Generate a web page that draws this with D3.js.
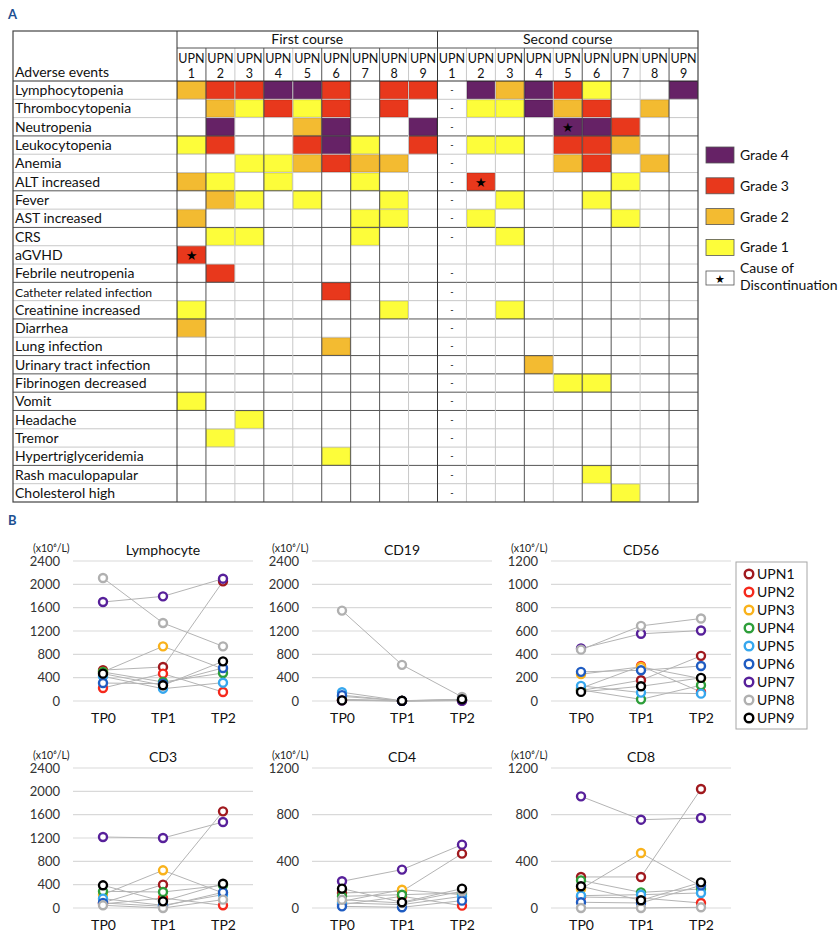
<!DOCTYPE html>
<html><head><meta charset="utf-8">
<script src="https://cdn.jsdelivr.net/npm/d3@7"></script>
<style>
body{margin:0;background:#fff;}
text{font-family:Lato,"Open Sans",sans-serif;}
</style>
</head><body>
<svg id="c" width="840" height="942"></svg>
<script>
// ---------------- DATA ----------------
const events = ["Lymphocytopenia","Thrombocytopenia","Neutropenia","Leukocytopenia","Anemia","ALT increased","Fever","AST increased","CRS","aGVHD","Febrile neutropenia","Catheter related infection","Creatinine increased","Diarrhea","Lung infection","Urinary tract infection","Fibrinogen decreased","Vomit","Headache","Tremor","Hypertriglyceridemia","Rash maculopapular","Cholesterol high"];
const courses = ["First course","Second course"];
const upnNumbers = ["1","2","3","4","5","6","7","8","9"];
// grade per event (rows) per UPN (cols); 0 = none, -1 = "-"
const firstCourse = [
 [2,3,3,4,4,3,0,3,3],
 [0,2,1,3,1,3,0,3,0],
 [0,4,0,0,2,4,0,0,4],
 [1,3,0,0,3,4,1,0,3],
 [0,0,1,1,2,3,2,2,0],
 [2,1,0,1,0,0,1,0,0],
 [0,2,1,0,1,0,0,1,0],
 [2,0,0,0,0,0,1,1,0],
 [0,1,1,0,0,0,1,0,0],
 [3,0,0,0,0,0,0,0,0],
 [0,3,0,0,0,0,0,0,0],
 [0,0,0,0,0,3,0,0,0],
 [1,0,0,0,0,0,0,1,0],
 [2,0,0,0,0,0,0,0,0],
 [0,0,0,0,0,2,0,0,0],
 [0,0,0,0,0,0,0,0,0],
 [0,0,0,0,0,0,0,0,0],
 [1,0,0,0,0,0,0,0,0],
 [0,0,1,0,0,0,0,0,0],
 [0,1,0,0,0,0,0,0,0],
 [0,0,0,0,0,1,0,0,0],
 [0,0,0,0,0,0,0,0,0],
 [0,0,0,0,0,0,0,0,0]
];
const secondCourse = [
 [-1,4,2,4,3,1,0,0,4],
 [-1,1,1,4,2,3,0,2,0],
 [-1,0,0,0,4,4,3,0,0],
 [-1,1,1,0,3,3,2,0,0],
 [-1,0,0,0,2,3,0,2,0],
 [-1,3,0,0,0,0,1,0,0],
 [-1,0,1,0,0,1,0,0,0],
 [-1,1,0,0,0,0,1,0,0],
 [-1,0,1,0,0,0,0,0,0],
 [0,0,0,0,0,0,0,0,0],
 [-1,0,0,0,0,0,0,0,0],
 [-1,0,0,0,0,0,0,0,0],
 [-1,0,1,0,0,0,0,0,0],
 [-1,0,0,0,0,0,0,0,0],
 [-1,0,0,0,0,0,0,0,0],
 [-1,0,0,2,0,0,0,0,0],
 [-1,0,0,0,1,1,0,0,0],
 [-1,0,0,0,0,0,0,0,0],
 [-1,0,0,0,0,0,0,0,0],
 [-1,0,0,0,0,0,0,0,0],
 [-1,0,0,0,0,0,0,0,0],
 [-1,0,0,0,0,1,0,0,0],
 [-1,0,0,0,0,0,1,0,0]
];
// cause of discontinuation: [course index, event, UPN index]
const discontinuation = [[0,"aGVHD",0],[1,"Neutropenia",4],[1,"ALT increased",1]];
const gradeLabels = ["Grade 4","Grade 3","Grade 2","Grade 1"];
const gradeValues = [4,3,2,1];
const causeLabel = ["Cause of","Discontinuation"];

const upns = ["UPN1","UPN2","UPN3","UPN4","UPN5","UPN6","UPN7","UPN8","UPN9"];
const timepoints = ["TP0","TP1","TP2"];
// values (x10^6/L) per UPN at TP0, TP1, TP2
const lymphocyte = [[530,583,2051],[223,469,154],[500,937,550],[497,326,480],[423,211,314],[308,297,566],[1697,1794,2097],[2108,1337,937],[469,269,680]];
const cd19 = [[20,2,10],[15,2,10],[30,2,15],[80,2,20],[150,3,25],[100,2,15],[10,2,5],[1550,620,70],[10,5,30]];
const cd56 = [[90,178,387],[110,300,77],[230,292,192],[95,14,135],[130,72,63],[250,263,300],[450,576,604],[440,644,707],[78,126,198]];
const cd3 = [[90,400,1657],[69,171,46],[229,646,257],[286,274,389],[160,46,229],[86,29,269],[1217,1200,1474],[46,0,143],[389,114,417]];
const cd4 = [[129,143,466],[29,100,20],[57,157,114],[100,114,129],[43,29,100],[14,6,63],[229,329,543],[71,43,143],[166,49,166]];
const cd8 = [[266,266,1020],[94,86,43],[163,471,186],[237,134,163],[106,114,129],[49,43,194],[957,757,771],[0,0,6],[186,66,220]];
const panelTitles = ["Lymphocyte","CD19","CD56","CD3","CD4","CD8"];
const ticks2400 = [0,400,800,1200,1600,2000,2400];
const ticksCD56 = [0,200,400,600,800,1000,1200];
const ticks1200 = [0,400,800,1200];
const unitLabel = "(x10\u2076/L)";

// ---------------- STYLE ----------------
const gradeFill = {4:"#662266",3:"#E8381C",2:"#F3BB31",1:"#FDFD3A"};
const gradeStroke = {4:"#4d164d",3:"#c42a10",2:"#d9a020",1:"#dede2a"};
const upnColors = ["#A0191E","#F5291C","#F9B21B","#2E9E3A","#36A7EE","#1F5CC2","#57209A","#B0B0B0","#000000"];
const dark = "#555", light = "#c8c8c8";
// line styles (dark=true) below each event row, right of each data column
const rowLineDark = [0,0,1,0,0,1,0,1,0,0,1,0,1,0,1,1,1,1,0,0,1,0];
const colLineDark = [1,0,1,0,1,1,1,0,1, 0,0,1,0,1,1,0,1];

const svg = d3.select("#c");

// ---------------- PANEL A ----------------
svg.append("text").attr("x",8).attr("y",19).text("A")
  .attr("font-weight","bold").attr("font-size",13).attr("fill","#1d4f91");

const tableLeft = 13, labelRight = 177, tableRight = 698, tableTop = 31, subTop = 48, headBottom = 81, tableBottom = 502;
const colKeys = [];
courses.forEach((c,ci)=>upnNumbers.forEach(u=>colKeys.push(ci+"-"+u)));
const xCol = d3.scaleBand().domain(colKeys).range([labelRight, tableRight]);
const yRow = d3.scaleBand().domain(events).range([headBottom, tableBottom]);
const xCourse = d3.scaleBand().domain(courses).range([labelRight, tableRight]);

const gT = svg.append("g");
// cells
const cells = [];
[firstCourse, secondCourse].forEach((tbl,ci)=>{
  tbl.forEach((row,ri)=>row.forEach((g,ui)=>cells.push({ci,ev:events[ri],u:upnNumbers[ui],ui,g})));
});
gT.selectAll("rect.cell").data(cells.filter(d=>d.g>0)).join("rect")
  .attr("x",d=>xCol(d.ci+"-"+d.u)+0.5).attr("y",d=>yRow(d.ev)+0.5)
  .attr("width",xCol.bandwidth()-1).attr("height",yRow.bandwidth()-1)
  .attr("fill",d=>gradeFill[d.g]).attr("stroke",d=>gradeStroke[d.g]).attr("stroke-width",1);
gT.selectAll("text.dash").data(cells.filter(d=>d.g<0)).join("text")
  .attr("x",d=>xCol(d.ci+"-"+d.u)+xCol.bandwidth()/2).attr("y",d=>yRow(d.ev)+yRow.bandwidth()/2+3)
  .attr("text-anchor","middle").attr("font-size",9).text("-");
// stars
gT.selectAll("text.star").data(discontinuation).join("text")
  .attr("x",d=>xCol(d[0]+"-"+upnNumbers[d[2]])+xCol.bandwidth()/2)
  .attr("y",d=>yRow(d[1])+yRow.bandwidth()/2+5)
  .attr("text-anchor","middle").attr("font-size",13).attr("fill","#000")
  .style("font-family","DejaVu Sans").text("\u2605");

// grid lines
events.slice(0,-1).forEach((ev,i)=>{
  const y = yRow(ev)+yRow.bandwidth();
  gT.append("line").attr("x1",tableLeft).attr("x2",tableRight).attr("y1",y).attr("y2",y)
    .attr("stroke",rowLineDark[i]?dark:light).attr("stroke-width",1);
});
colKeys.slice(0,-1).forEach((k,i)=>{
  const x = xCol(k)+xCol.bandwidth();
  const major = i===8;
  gT.append("line").attr("x1",x).attr("x2",x).attr("y1",major?tableTop:subTop).attr("y2",tableBottom)
    .attr("stroke",major?"#333":(colLineDark[i]?dark:light)).attr("stroke-width",1);
});
// structural lines
gT.append("line").attr("x1",labelRight).attr("x2",tableRight).attr("y1",subTop).attr("y2",subTop).attr("stroke",dark);
gT.append("line").attr("x1",tableLeft).attr("x2",tableRight).attr("y1",headBottom).attr("y2",headBottom).attr("stroke","#333");
gT.append("line").attr("x1",labelRight).attr("x2",labelRight).attr("y1",tableTop).attr("y2",tableBottom).attr("stroke","#333");
gT.append("rect").attr("x",tableLeft).attr("y",tableTop).attr("width",tableRight-tableLeft).attr("height",tableBottom-tableTop)
  .attr("fill","none").attr("stroke","#444").attr("stroke-width",1.2);

// header text
gT.selectAll("text.course").data(courses).join("text")
  .attr("x",d=>xCourse(d)+xCourse.bandwidth()/2).attr("y",44).attr("text-anchor","middle")
  .attr("font-size",14).attr("fill","#111").text(d=>d);
gT.selectAll("text.upn1").data(colKeys).join("text")
  .attr("x",d=>xCol(d)+xCol.bandwidth()/2).attr("y",63).attr("text-anchor","middle")
  .attr("font-size",12.5).attr("fill","#111").text("UPN");
gT.selectAll("text.upn2").data(colKeys).join("text")
  .attr("x",d=>xCol(d)+xCol.bandwidth()/2).attr("y",77.5).attr("text-anchor","middle")
  .attr("font-size",12.5).attr("fill","#111").text(d=>d.split("-")[1]);
gT.append("text").attr("x",15).attr("y",77).attr("font-size",14).attr("fill","#111").text("Adverse events");
gT.selectAll("text.ev").data(events).join("text")
  .attr("x",15).attr("y",d=>yRow(d)+yRow.bandwidth()/2+5)
  .attr("font-size",d=>d.length>24?12.2:14).attr("fill","#111").text(d=>d);

// legend A
const yLeg = d3.scaleBand().domain(gradeValues.concat([0])).range([146,300]);
const gL = svg.append("g");
gradeValues.forEach((g,i)=>{
  gL.append("rect").attr("x",706).attr("y",yLeg(g)+1).attr("width",28).attr("height",16)
    .attr("fill",gradeFill[g]).attr("stroke","#555").attr("stroke-width",0.8);
  gL.append("text").attr("x",740).attr("y",yLeg(g)+14).attr("font-size",14).attr("fill","#111").text(gradeLabels[i]);
});
gL.append("rect").attr("x",706).attr("y",271).attr("width",28).attr("height",14)
  .attr("fill","#fff").attr("stroke","#555").attr("stroke-width",0.8);
gL.append("text").attr("x",720).attr("y",283).attr("text-anchor","middle").attr("font-size",11)
  .style("font-family","DejaVu Sans").text("\u2605");
causeLabel.forEach((t,i)=>gL.append("text").attr("x",740).attr("y",273+i*17).attr("font-size",14).attr("fill","#111").text(t));

// ---------------- PANEL B ----------------
svg.append("text").attr("x",8).attr("y",525).text("B")
  .attr("font-weight","bold").attr("font-size",13).attr("fill","#1d4f91");

const panelData = [lymphocyte, cd19, cd56, cd3, cd4, cd8];
const panelTicks = [ticks2400, ticks2400, ticksCD56, ticks2400, ticks1200, ticks1200];
const colX0 = [73, 312, 551], plotW = 180;
const rowTop = [561, 768], plotH = 140;

panelData.forEach((data,pi)=>{
  const cx = colX0[pi%3], top = rowTop[Math.floor(pi/3)], zero = top+plotH;
  const ticks = panelTicks[pi];
  const x = d3.scalePoint().domain(timepoints).range([cx, cx+plotW]).padding(0.5);
  const y = d3.scaleLinear().domain([0, d3.max(ticks)]).range([zero, top]);
  const g = svg.append("g");
  // grid
  g.selectAll("line.grid").data(ticks).join("line")
    .attr("x1",cx).attr("x2",cx+plotW).attr("y1",d=>y(d)).attr("y2",d=>y(d))
    .attr("stroke","#d9d9d9").attr("stroke-width",1.2);
  // y axis
  const ya = g.append("g").attr("transform",`translate(${cx-6},0)`)
    .call(d3.axisLeft(y).tickValues(ticks).tickFormat(d3.format("d")).tickSize(0).tickPadding(7));
  ya.select(".domain").remove();
  ya.selectAll("text").attr("font-size",13).attr("fill","#333").style("font-family","Lato");
  // x axis
  const xa = g.append("g").attr("transform",`translate(0,${zero+8})`)
    .call(d3.axisBottom(x).tickSize(0).tickPadding(4));
  xa.select(".domain").remove();
  xa.selectAll("text").attr("font-size",14).attr("fill","#111").style("font-family","Lato");
  // title & unit
  g.append("text").attr("x",x("TP1")).attr("y",top-6).attr("text-anchor","middle")
    .attr("font-size",14).attr("fill","#111").text(panelTitles[pi]);
  g.append("text").attr("x",cx-40).attr("y",top-9)
    .attr("font-size",10.5).attr("fill","#222").text(unitLabel);
  // lines
  const line = d3.line().x((d,i)=>x(timepoints[i])).y(d=>y(d));
  g.selectAll("path.ln").data(data).join("path")
    .attr("d",line).attr("fill","none").attr("stroke","#b4b4b4").attr("stroke-width",1);
  // points
  data.forEach((vals,ui)=>{
    g.selectAll(null).data(vals).join("circle")
      .attr("cx",(d,i)=>x(timepoints[i])).attr("cy",d=>y(d)).attr("r",4)
      .attr("fill","#fff").attr("stroke",upnColors[ui]).attr("stroke-width",2.4);
  });
});

// legend B
const gB = svg.append("g");
gB.append("rect").attr("x",736).attr("y",562).attr("width",71).attr("height",167)
  .attr("fill","#fff").attr("stroke","#a6a6a6").attr("stroke-width",1);
const yUpn = d3.scalePoint().domain(upns).range([574,718]);
gB.selectAll("circle").data(upns).join("circle")
  .attr("cx",749).attr("cy",d=>yUpn(d)).attr("r",4.3)
  .attr("fill","#fff").attr("stroke",(d,i)=>upnColors[i]).attr("stroke-width",2.4);
gB.selectAll("text").data(upns).join("text")
  .attr("x",757).attr("y",d=>yUpn(d)+5).attr("font-size",14).attr("fill","#111").text(d=>d);
</script>
</body></html>
